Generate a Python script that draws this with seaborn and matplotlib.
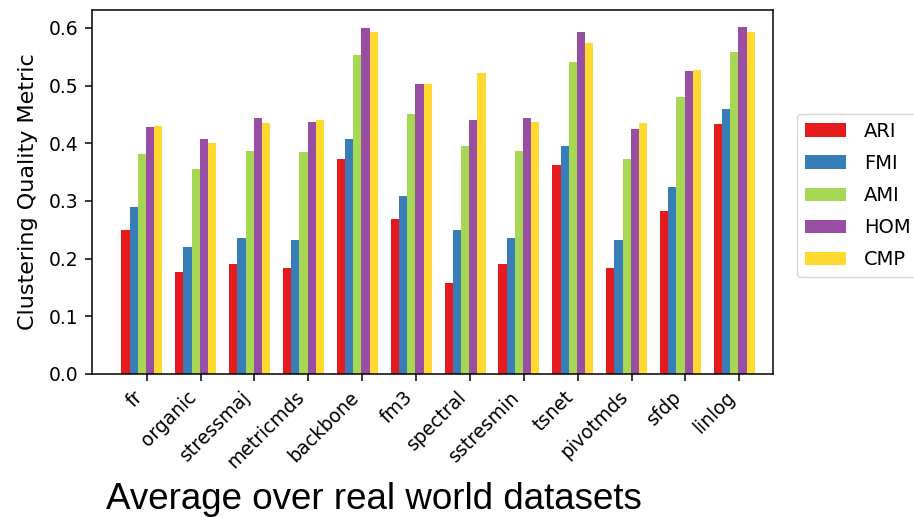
import numpy as np
import pandas as pd
import matplotlib
matplotlib.use("Agg")
import matplotlib.pyplot as plt
import seaborn as sns

# Layout algorithms on the x axis
methods = ["fr", "organic", "stressmaj", "metricmds", "backbone", "fm3",
           "spectral", "sstresmin", "tsnet", "pivotmds", "sfdp", "linlog"]

# Clustering quality scores averaged over the real-world datasets
ari = [0.250, 0.176, 0.191, 0.183, 0.373, 0.268, 0.157, 0.191, 0.363, 0.183, 0.283, 0.433]
fmi = [0.289, 0.221, 0.235, 0.232, 0.407, 0.309, 0.250, 0.235, 0.396, 0.232, 0.325, 0.460]
ami = [0.381, 0.355, 0.386, 0.384, 0.553, 0.450, 0.396, 0.386, 0.540, 0.373, 0.481, 0.559]
hom = [0.428, 0.407, 0.443, 0.437, 0.599, 0.502, 0.440, 0.443, 0.592, 0.425, 0.525, 0.602]
cmp_ = [0.430, 0.401, 0.435, 0.440, 0.592, 0.502, 0.522, 0.437, 0.574, 0.435, 0.527, 0.592]

metrics = ["ARI", "FMI", "AMI", "HOM", "CMP"]
colors = ["#e41a1c", "#377eb8", "#a6d854", "#984ea3", "#ffd92f"]

df = pd.DataFrame({
    "method": methods * 5,
    "metric": sum([[m] * len(methods) for m in metrics], []),
    "value": ari + fmi + ami + hom + cmp_,
})

fig = plt.figure(figsize=(9.14, 5.17), dpi=100)
ax = fig.add_axes([0.1007, 0.2766, 0.7450, 0.7041])

sns.barplot(data=df, x="method", y="value", hue="metric", order=methods,
            hue_order=metrics, palette=colors, saturation=1, width=0.76,
            linewidth=0, errorbar=None, ax=ax)

ax.set_xlim(-0.926, 11.716)
ax.set_ylim(0, 0.631)
ax.set_xticks(np.arange(len(methods)) + 0.09)
ax.set_xticklabels(methods, rotation=45, ha="right", fontsize=13.5)
ax.set_yticks([0.0, 0.1, 0.2, 0.3, 0.4, 0.5, 0.6])
ax.tick_params(axis="both", labelsize=13.5, length=5.2, width=1.1, pad=4.5)
for spine in ax.spines.values():
    spine.set_linewidth(1.1)
ax.set_xlabel("")
ax.set_ylabel("Clustering Quality Metric", fontsize=16, labelpad=8)

handles, labels = ax.get_legend_handles_labels()
ax.legend(handles, labels, loc="center left", bbox_to_anchor=(1.035, 0.49),
          borderaxespad=0, fontsize=14, handlelength=2.15,
          labelspacing=0.67, handletextpad=0.9)

fig.text(106 / 914, 8 / 517, "Average over real world datasets",
         fontsize=26.5, family="Liberation Sans", va="baseline", ha="left")

fig.savefig("out.png", dpi=100)
